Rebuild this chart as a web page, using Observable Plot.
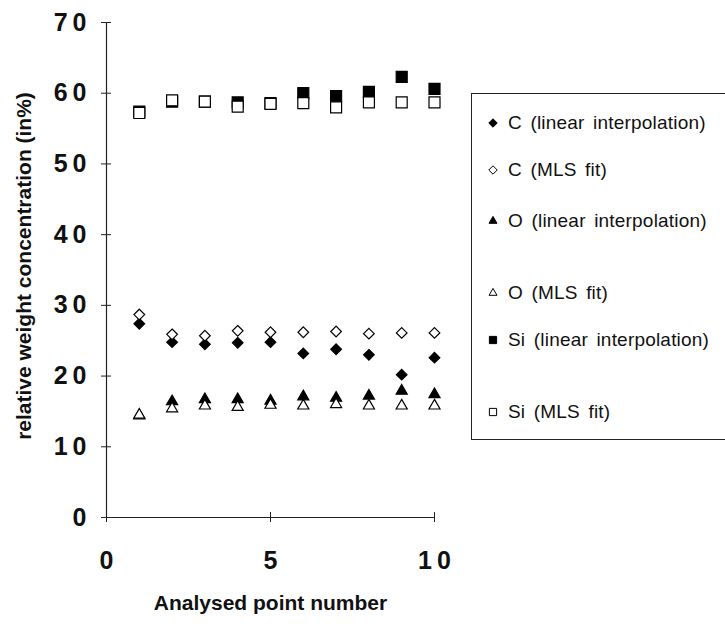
<!DOCTYPE html>
<html><head><meta charset="utf-8">
<script src="https://cdn.jsdelivr.net/npm/d3@7"></script>
<script src="https://cdn.jsdelivr.net/npm/@observablehq/plot@0.6"></script>
<style>
body{margin:0;background:#fff;}
#wrap{position:relative;width:725px;height:624px;overflow:hidden;}
#legend{position:absolute;left:471px;top:93px;width:256px;height:347px;border:1px solid #222;box-sizing:border-box;font-family:"Liberation Sans",Arial,sans-serif;font-size:19px;color:#111;}
.item{position:absolute;left:0;height:22px;display:flex;align-items:center;white-space:nowrap;letter-spacing:0.2px;word-spacing:3px;}
.item svg{margin-left:15px;margin-right:9px;}
</style></head><body><div id="wrap"><div id="chart"></div><div id="legend"></div></div>
<script>
const points   = [1, 2, 3, 4, 5, 6, 7, 8, 9, 10];
const cLinear  = [27.4, 24.8, 24.5, 24.7, 24.8, 23.2, 23.8, 23.0, 20.2, 22.6];
const cMLS     = [28.7, 25.9, 25.7, 26.4, 26.2, 26.2, 26.3, 26.0, 26.1, 26.1];
const oLinear  = [14.4, 16.4, 16.7, 16.7, 16.5, 17.1, 16.9, 17.2, 17.9, 17.4];
const oMLS     = [14.5, 15.4, 15.8, 15.6, 15.9, 15.8, 16.0, 15.8, 15.8, 15.8];
const siLinear = [57.4, 58.8, 58.8, 58.7, 58.6, 60.0, 59.6, 60.2, 62.3, 60.6];
const siMLS    = [57.2, 59.0, 58.8, 58.1, 58.5, 58.6, 58.0, 58.7, 58.7, 58.7];
const seriesNames = ["C (linear interpolation)", "C (MLS fit)", "O (linear interpolation)", "O (MLS fit)", "Si (linear interpolation)", "Si (MLS fit)"];
const xTicks = [0, 5, 10];
const yTicks = [0, 10, 20, 30, 40, 50, 60, 70];
const xTitle = "Analysed point number";
const yTitle = "relative weight concentration (in%)";

const seriesValues = [cLinear, cMLS, oLinear, oMLS, siLinear, siMLS];
const styles = [
  {symbol: "diamond2", fill: "black", r: 4.8},
  {symbol: "diamond2", fill: "white", r: 4.8},
  {symbol: "triangle2", fill: "black", r: 5.3},
  {symbol: "triangle2", fill: "white", r: 5.3},
  {symbol: "square2", fill: "black", r: 7},
  {symbol: "square2", fill: "white", r: 7}
];
const tables = seriesValues.map((vals, i) => points.map((p, j) => ({x: p, y: vals[j], series: seriesNames[i]})));

const font = "Liberation Sans, Arial, Helvetica, sans-serif";
const plot = Plot.plot({
  width: 725, height: 624,
  marginLeft: 106, marginRight: 291, marginTop: 22, marginBottom: 107,
  style: {fontFamily: font, background: "white", color: "#111"},
  x: {domain: [0, 10], label: null},
  y: {domain: [0, 70], label: null},
  marks: [
    Plot.ruleX([0], {stroke: "#222", strokeWidth: 1.2}),
    Plot.ruleY([0], {stroke: "#222", strokeWidth: 1.2}),
    Plot.axisY(yTicks, {tickSize: 10, dx: 5, tickFormat: () => "", stroke: "#222"}),
    Plot.axisX(xTicks, {tickSize: 10, dy: -5, tickFormat: () => "", stroke: "#222"}),
    Plot.axisY(yTicks, {tickSize: 0, tickPadding: 15, fontSize: 25}),
    Plot.axisX(xTicks, {tickSize: 0, tickPadding: 34, fontSize: 25}),
    ...tables.map((t, i) => Plot.dot(t, {x: "x", y: "y", symbol: () => styles[i].symbol, r: styles[i].r, fill: styles[i].fill, stroke: "black", strokeWidth: 1.2})),
    Plot.text([yTitle], {frameAnchor: "left", textAnchor: "middle", rotate: -90, dx: -82, dy: -4, fontSize: 21, fontWeight: "bold", ariaLabel: "ytitle"}),
    Plot.text([xTitle], {frameAnchor: "bottom", dy: 92, fontSize: 21, fontWeight: "bold", ariaLabel: "xtitle"})
  ]
});
plot.querySelectorAll('g[aria-label$="tick label"] text').forEach(t => {
  t.style.fontWeight = "bold"; t.style.letterSpacing = "5px";
});
plot.querySelectorAll('g[aria-label="x-axis tick label"] text').forEach(t => { t.setAttribute("dx", "2.5"); });
plot.querySelectorAll('g[aria-label="ytitle"] text').forEach(t => { t.style.letterSpacing = "3.5px"; t.style.wordSpacing = "9px"; });
plot.querySelectorAll('g[aria-label="xtitle"] text').forEach(t => { t.style.letterSpacing = "0.4px"; t.style.wordSpacing = "2px"; });
document.getElementById("chart").appendChild(plot);

// legend
const legendY = [29, 76, 127, 199, 246, 318];
const legend = document.getElementById("legend");
seriesNames.forEach((name, i) => {
  const div = document.createElement("div");
  div.className = "item";
  div.style.top = (legendY[i] - 11) + "px";
  const s = d3.create("svg").attr("width", 12).attr("height", 12);
  const symMap = {diamond2: d3.symbolDiamond2, triangle2: d3.symbolTriangle2, square2: d3.symbolSquare2};
  const rr = i >= 4 ? 4.6 : 3.8;
  s.append("path").attr("transform", "translate(6,6)")
    .attr("d", d3.symbol(symMap[styles[i].symbol], Math.PI * rr * rr)())
    .attr("fill", styles[i].fill).attr("stroke", "black").attr("stroke-width", 1);
  div.appendChild(s.node());
  const span = document.createElement("span");
  span.textContent = name;
  div.appendChild(span);
  legend.appendChild(div);
});
</script></body></html>
